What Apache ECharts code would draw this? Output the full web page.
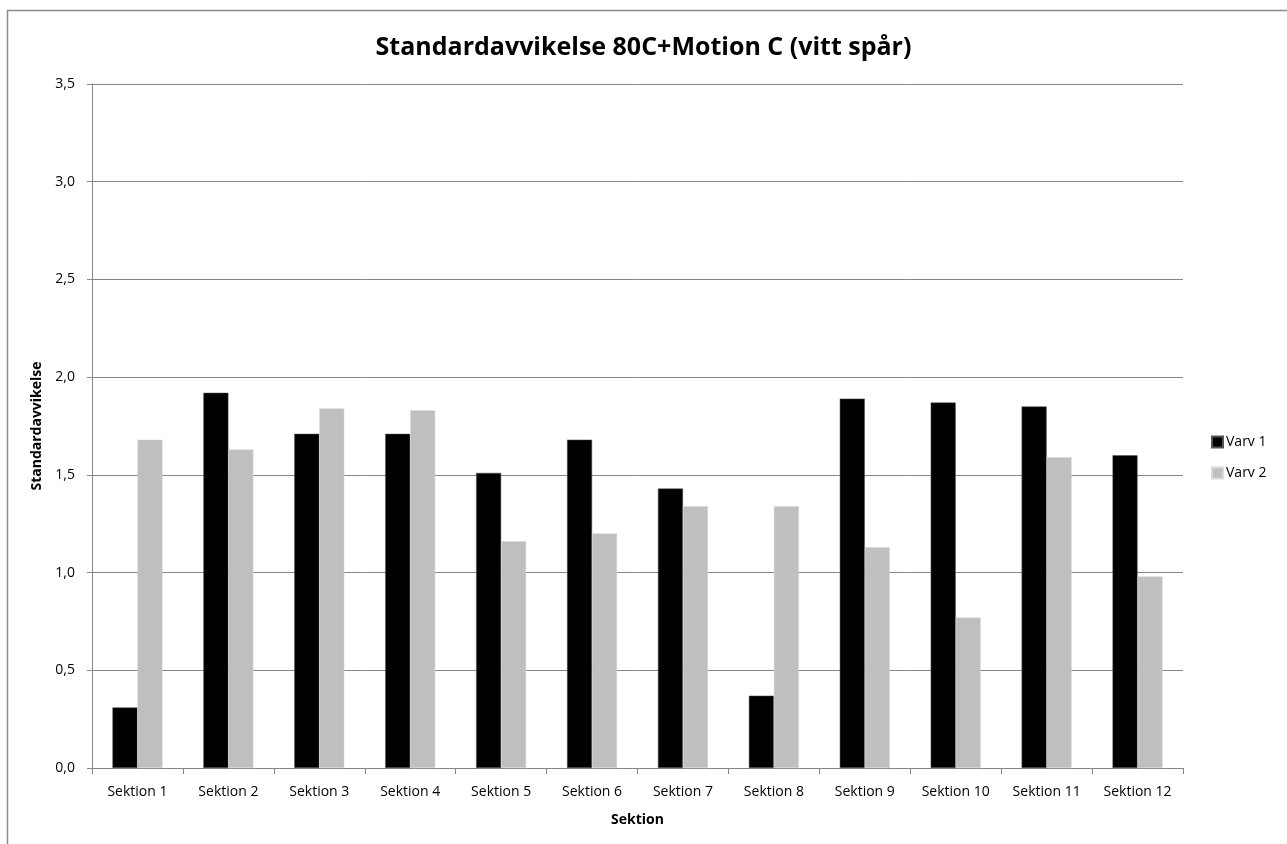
<!DOCTYPE html>
<html>
<head>
<meta charset="utf-8">
<script src="https://cdn.jsdelivr.net/npm/echarts@6/dist/echarts.min.js"></script>
<style>
html,body{margin:0;padding:0;background:#fff;}
#chart{width:1287px;height:844px;}
</style>
</head>
<body>
<div id="chart"></div>
<script>
const categories = ['Sektion 1','Sektion 2','Sektion 3','Sektion 4','Sektion 5','Sektion 6','Sektion 7','Sektion 8','Sektion 9','Sektion 10','Sektion 11','Sektion 12'];
const varv1 = [0.31, 1.92, 1.71, 1.71, 1.51, 1.68, 1.43, 0.37, 1.89, 1.87, 1.85, 1.60];
const varv2 = [1.68, 1.63, 1.84, 1.83, 1.16, 1.20, 1.34, 1.34, 1.13, 0.77, 1.59, 0.98];
const yTicks = {min: 0, max: 3.5, interval: 0.5};

const font = '"Open Sans", "Noto Sans", sans-serif';
const chart = echarts.init(document.getElementById('chart'));
chart.setOption({
  animation: false,
  backgroundColor: '#fff',
  graphic: [
    {type: 'line', shape: {x1: 7, y1: 10.5, x2: 1287, y2: 10.5}, style: {stroke: '#8c8c8c', lineWidth: 1.5}},
    {type: 'line', shape: {x1: 7.5, y1: 10, x2: 7.5, y2: 844}, style: {stroke: '#8c8c8c', lineWidth: 1.5}}
  ],
  title: {
    text: 'Standardavvikelse 80C+Motion C (vitt spår)',
    left: 'center',
    top: 30,
    textStyle: {fontFamily: font, fontWeight: 'bold', fontSize: 25, color: '#000'}
  },
  legend: {
    orient: 'vertical',
    left: 1206,
    top: 430,
    itemWidth: 11,
    itemHeight: 11,
    itemGap: 17,
    icon: 'rect',
    textStyle: {fontFamily: font, fontSize: 14, color: '#000', padding: [0,0,0,-2]},
    data: ['Varv 1', 'Varv 2']
  },
  grid: {left: 92, right: 104, top: 84, bottom: 76, containLabel: false},
  xAxis: {
    type: 'category',
    data: categories,
    name: 'Sektion',
    nameLocation: 'middle',
    nameGap: 45,
    nameTextStyle: {fontFamily: font, fontWeight: 'bold', fontSize: 14, color: '#000'},
    axisLine: {lineStyle: {color: '#868686', width: 1}},
    axisTick: {show: true, alignWithLabel: false, length: 6, lineStyle: {color: '#868686'}},
    axisLabel: {fontFamily: font, fontSize: 14, color: '#000', margin: 17, interval: 0}
  },
  yAxis: {
    type: 'value',
    min: yTicks.min,
    max: yTicks.max,
    interval: yTicks.interval,
    name: 'Standardavvikelse',
    nameLocation: 'middle',
    nameGap: 40,
    nameRotate: 90,
    nameTextStyle: {fontFamily: font, fontWeight: 'bold', fontSize: 14, color: '#000'},
    axisLine: {show: true, lineStyle: {color: '#868686', width: 1}},
    axisTick: {show: true, length: 5, lineStyle: {color: '#868686'}},
    axisLabel: {fontFamily: font, fontSize: 14, color: '#000', margin: 17,
      formatter: v => v.toFixed(1).replace('.', ',')},
    splitLine: {show: true, lineStyle: {color: '#868686', width: 1}}
  },
  series: [
    {name: 'Varv 1', type: 'bar', data: varv1, barGap: '0%', barCategoryGap: '45%',
      itemStyle: {color: '#000000', borderColor: '#555', borderWidth: 0.5}},
    {name: 'Varv 2', type: 'bar', data: varv2, barGap: '0%', barCategoryGap: '45%',
      itemStyle: {color: '#bfbfbf', borderColor: '#d9d9d9', borderWidth: 0.5}}
  ]
});
</script>
</body>
</html>
